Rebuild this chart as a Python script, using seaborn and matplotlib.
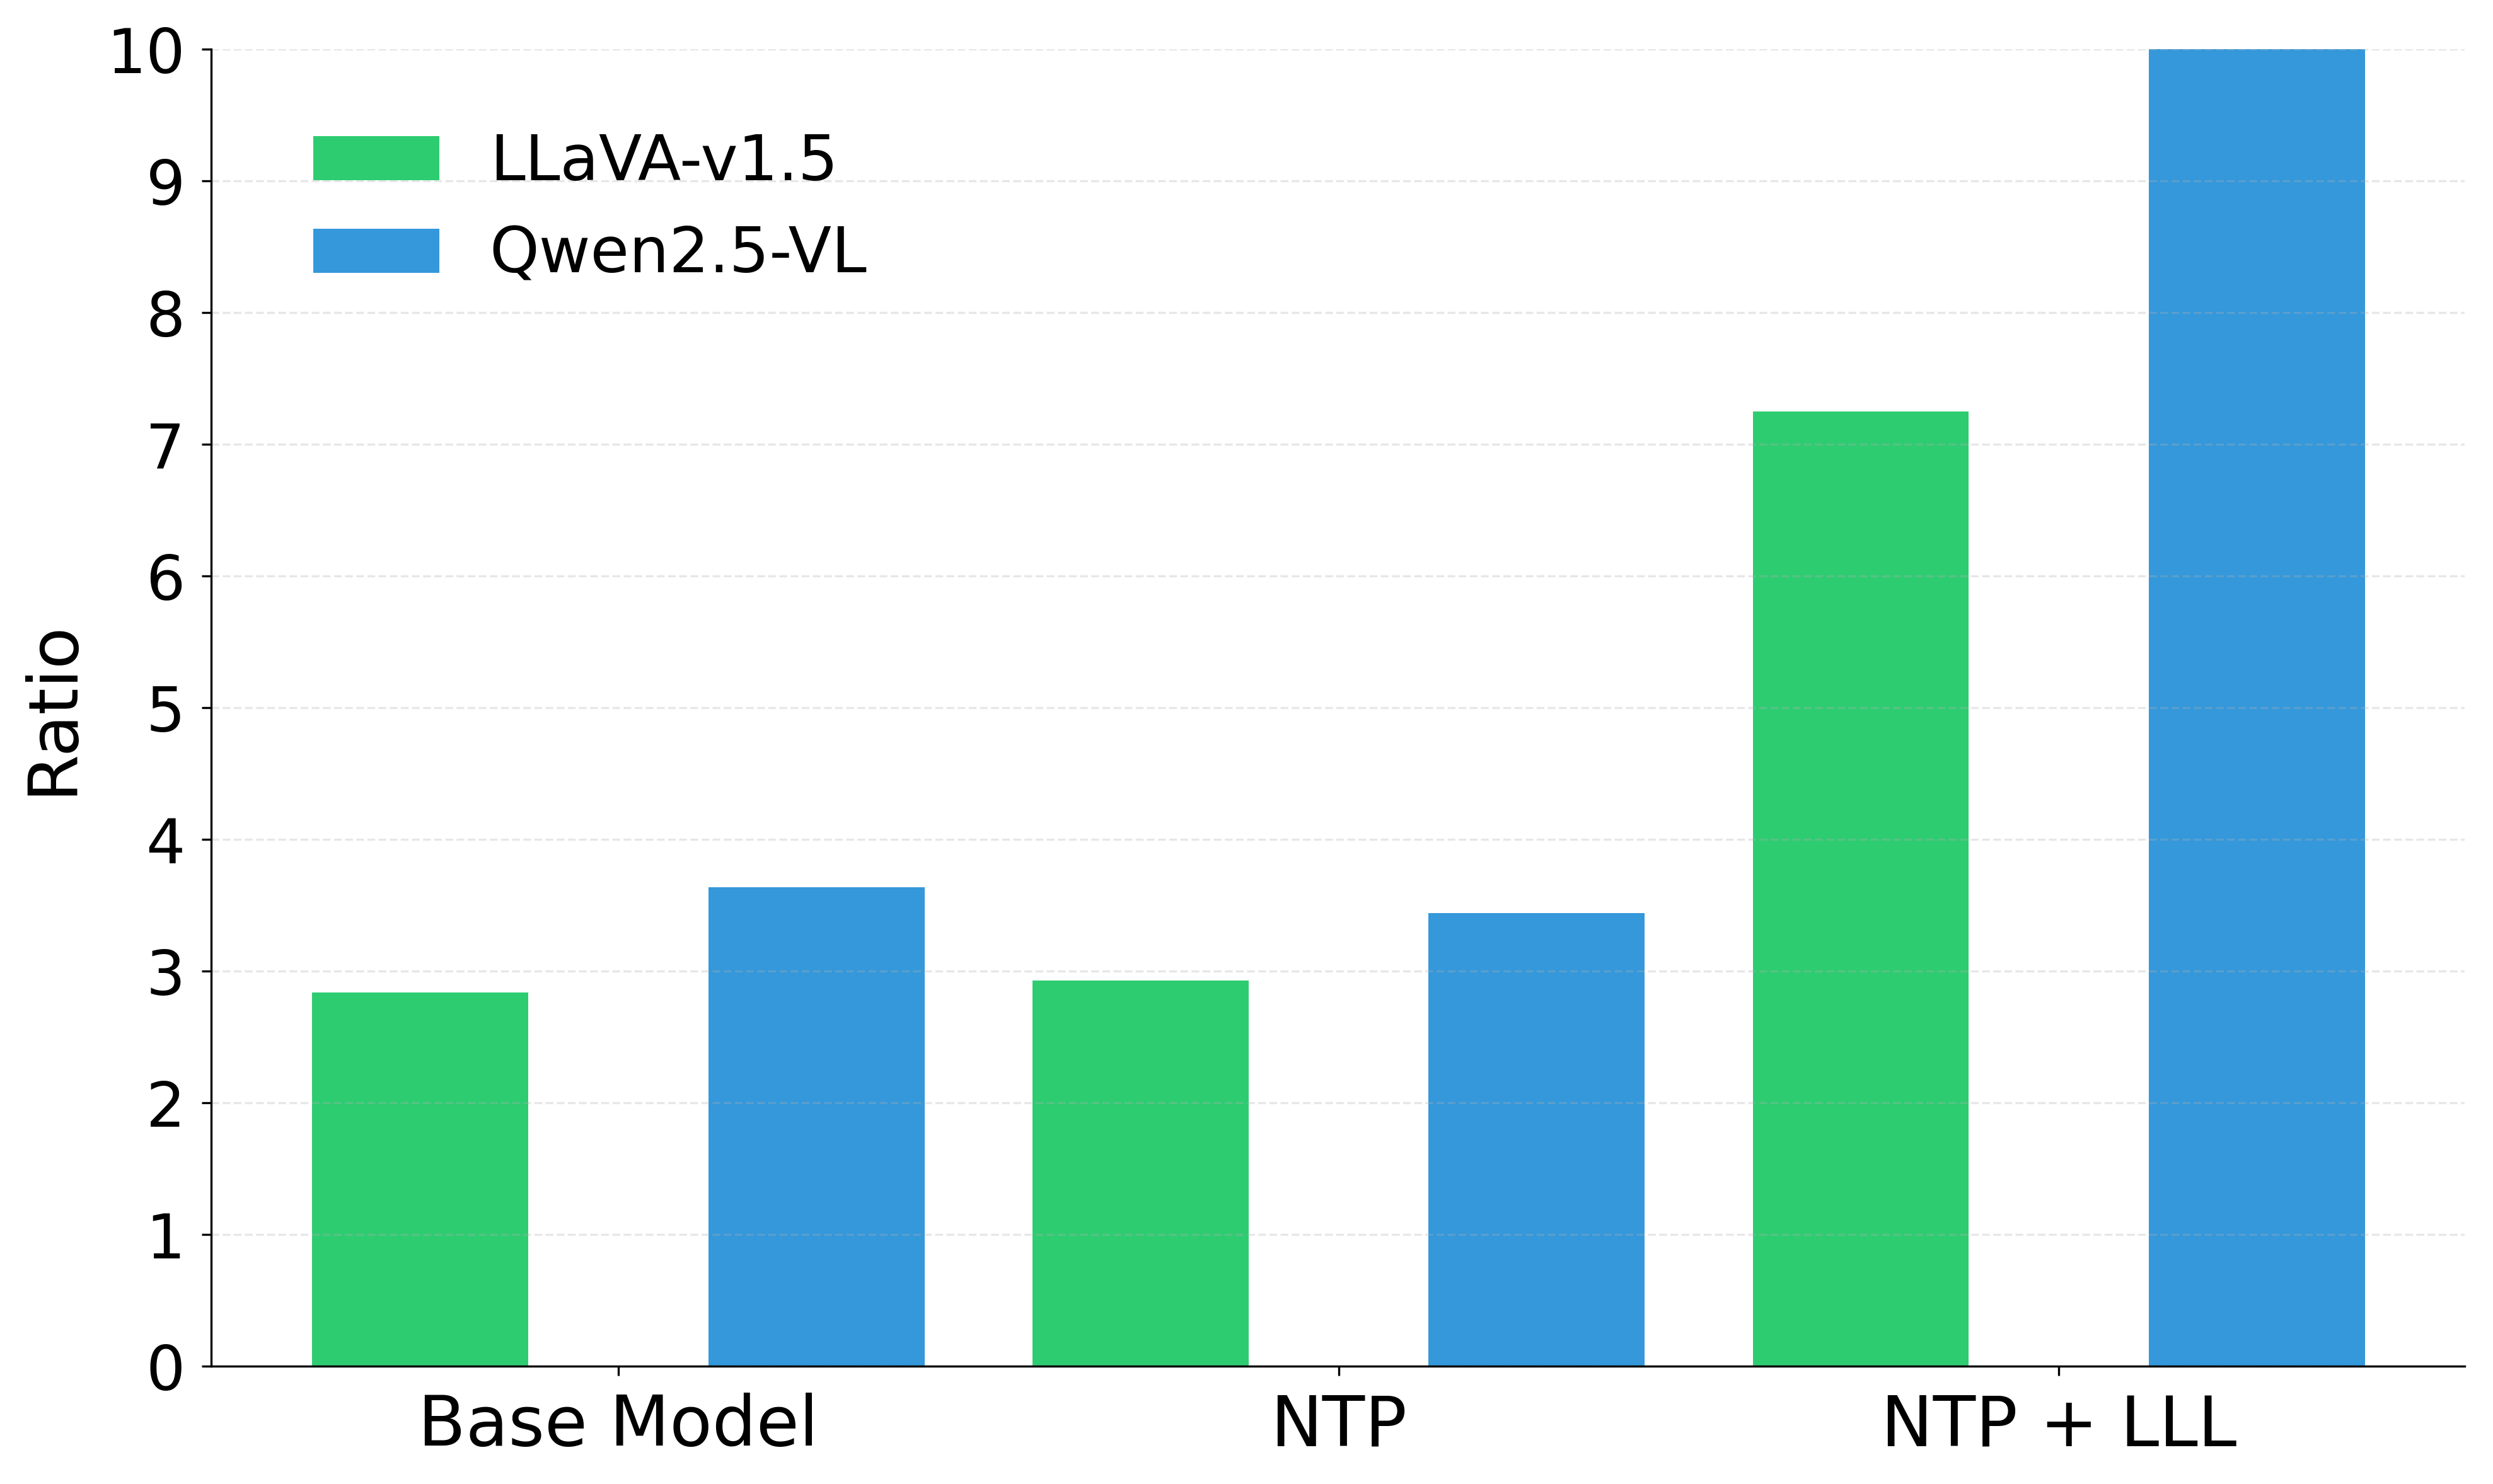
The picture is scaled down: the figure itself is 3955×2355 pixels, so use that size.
import pandas as pd
import matplotlib
matplotlib.use("Agg")
import matplotlib.pyplot as plt
import seaborn as sns

# values
methods = ["Base Model", "NTP", "NTP + LLL"]
models = ["LLaVA-v1.5", "Qwen2.5-VL"]
llava_ratio = [2.84, 2.93, 7.25]
qwen_ratio = [3.64, 3.44, 10.0]
colors = ["#2ECC71", "#3498DB"]

df = pd.DataFrame({
    "method": methods * 2,
    "model": [models[0]] * 3 + [models[1]] * 3,
    "ratio": llava_ratio + qwen_ratio,
})

plt.rcParams["font.family"] = ["DejaVu Sans"]

fig = plt.figure(figsize=(3955 / 300, 2355 / 300), dpi=300)
ax = fig.add_axes([0.0848, 0.0792, 0.9037, 0.8876])

sns.barplot(data=df, x="method", y="ratio", hue="model", order=methods,
            hue_order=models, palette=colors, width=1.1, gap=0.4545,
            saturation=1, errorbar=None, ax=ax)

ax.set_ylim(0, 10)
ax.set_xlim(-0.565, 2.563)
ax.set_yticks(range(0, 11))
ax.set_ylabel("Ratio", fontsize=26, labelpad=8)
ax.set_xlabel("")
ax.tick_params(axis="y", labelsize=23.5, pad=6.5)
ax.tick_params(axis="x", labelsize=26.5, pad=6.5)
ax.set_axisbelow("line")
ax.grid(axis="y", linestyle="--", alpha=0.3)
ax.spines["top"].set_visible(False)
ax.spines["right"].set_visible(False)

ax.legend(loc="upper left", bbox_to_anchor=(0.02, 0.98), frameon=False,
          fontsize=24)

fig.savefig("out.png", dpi=300)
